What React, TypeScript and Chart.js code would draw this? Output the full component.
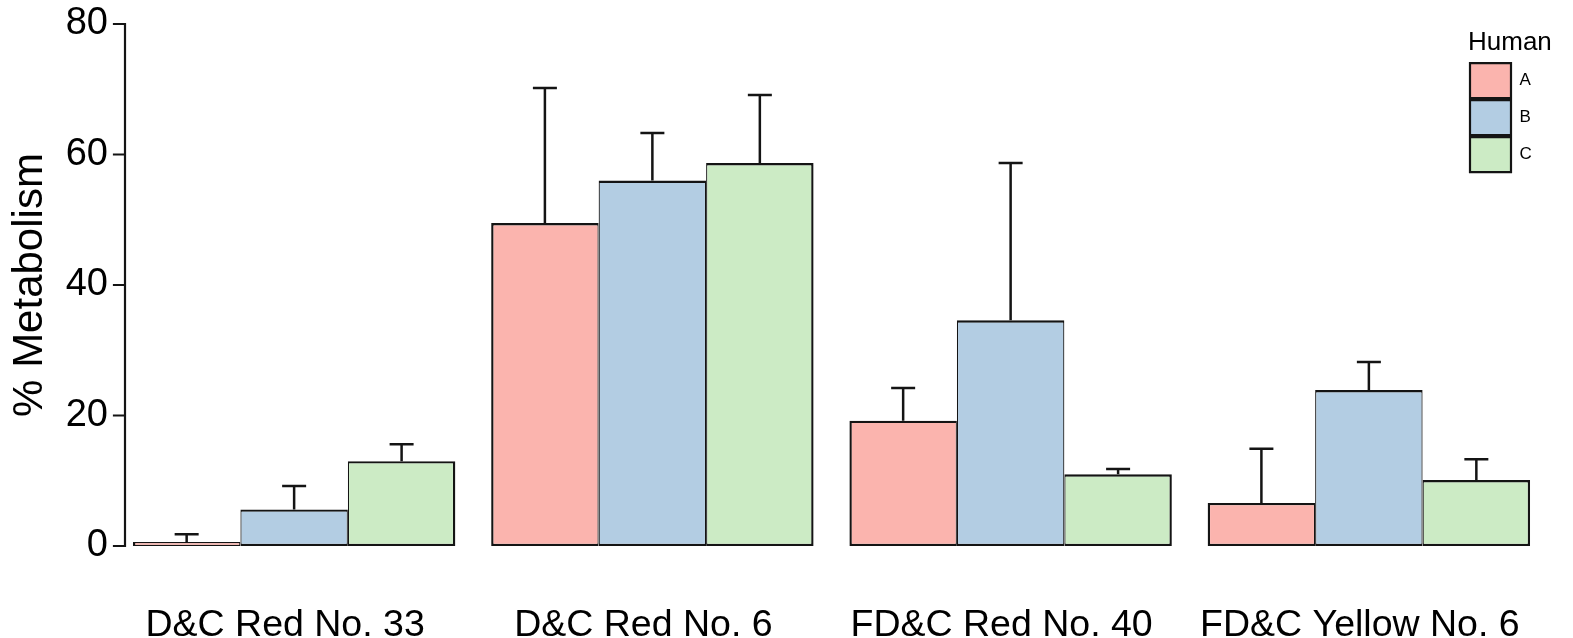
import React, { useEffect, useRef } from 'react';
import { Chart, registerables } from 'chart.js';

Chart.register(...registerables);

const categories = ['D&C Red No. 33', 'D&C Red No. 6', 'FD&C Red No. 40', 'FD&C Yellow No. 6'];
const seriesNames = ['A', 'B', 'C'];
const valuesA = [0.6, 49.5, 19.2, 6.6];
const valuesB = [5.6, 56.0, 34.6, 23.9];
const valuesC = [13.0, 58.7, 11.0, 10.1];
// upper ends of the error bars
const upperA = [1.8, 70.2, 24.2, 14.9];
const upperB = [9.2, 63.3, 58.7, 28.2];
const upperC = [15.6, 69.1, 11.8, 13.3];
const yTicks = [0, 20, 40, 60, 80];
const legendTitle = 'Human';
const yTitle = '% Metabolism';

const fills = ['#FBB4AE', '#B3CDE3', '#CCEBC5'];
const ink = '#141414';
const FONT = '"Liberation Sans", Arial, Helvetica, sans-serif';

const seriesValues = [valuesA, valuesB, valuesC];
const seriesUpper = [upperA, upperB, upperC];

const errorBarPlugin = {
  id: 'errorBars',
  afterDatasetsDraw(chart: any) {
    const ctx = chart.ctx;
    const y = chart.scales.y;
    ctx.save();
    ctx.strokeStyle = ink;
    ctx.lineWidth = 2.5;
    chart.data.datasets.forEach((ds: any, i: number) => {
      const meta = chart.getDatasetMeta(i);
      meta.data.forEach((el: any, j: number) => {
        const up = seriesUpper[i][j];
        const yTop = y.getPixelForValue(up);
        const yBar = y.getPixelForValue(ds.data[j]);
        ctx.beginPath();
        ctx.moveTo(el.x, yBar);
        ctx.lineTo(el.x, yTop);
        ctx.moveTo(el.x - 12, yTop);
        ctx.lineTo(el.x + 12, yTop);
        ctx.stroke();
      });
    });
    ctx.restore();
  },
};

const yAxisPlugin = {
  id: 'customYAxis',
  afterDraw(chart: any) {
    const ctx = chart.ctx;
    const y = chart.scales.y;
    const x0 = chart.chartArea.left + 10;
    ctx.save();
    ctx.strokeStyle = ink;
    ctx.lineWidth = 2.2;
    ctx.lineCap = 'square';
    ctx.beginPath();
    ctx.moveTo(x0, y.getPixelForValue(yTicks[yTicks.length - 1]));
    ctx.lineTo(x0, y.getPixelForValue(yTicks[0]));
    yTicks.forEach((t) => {
      const py = y.getPixelForValue(t);
      ctx.moveTo(x0 - 11, py);
      ctx.lineTo(x0, py);
    });
    ctx.stroke();
    ctx.restore();
  },
};

const legendPlacePlugin = {
  id: 'legendPlace',
  afterLayout(chart: any) {
    const lg = chart.legend;
    if (!lg) return;
    const w = Math.max(lg.width, 100);
    const h = lg.height;
    lg.left = chart.chartArea.right - 80;
    lg.top = 30;
    lg.width = w;
    lg.right = lg.left + w;
    lg.bottom = lg.top + h;
  },
};

export default function App() {
  const ref = useRef<HTMLCanvasElement | null>(null);

  useEffect(() => {
    if (!ref.current) return;
    Chart.defaults.font.family = FONT;
    const chart = new Chart(ref.current, {
      type: 'bar',
      data: {
        labels: categories,
        datasets: seriesNames.map((name, i) => ({
          label: name,
          data: seriesValues[i],
          backgroundColor: fills[i],
          borderColor: ink,
          borderWidth: (c: any) => {
            const thin = typeof c.raw === 'number' && c.raw < 1;
            return {
              top: thin ? 1.2 : 2.4,
              bottom: thin ? 1.2 : 2.2,
              left: i === 0 ? 2.4 : 1.2,
              right: i === seriesNames.length - 1 ? 2.4 : 1.2,
            };
          },
          borderSkipped: false,
          categoryPercentage: 0.9,
          barPercentage: 1.0,
        })),
      },
      options: {
        animation: false,
        responsive: false,
        layout: { padding: { left: 0, top: 24, right: 25, bottom: 0 } },
        scales: {
          x: {
            type: 'category',
            offset: true,
            afterFit: (scale: any) => {
              scale.height = 92;
              scale.paddingLeft = 0;
              scale.paddingRight = 0;
            },
            grid: { display: false, drawTicks: false },
            border: { display: false },
            ticks: {
              color: '#000',
              font: { size: 37.5, lineHeight: 1 },
              padding: 61,
              labelOffset: -9,
              maxRotation: 0,
              autoSkip: false,
            },
          },
          y: {
            min: 0,
            max: 80,
            afterFit: (scale: any) => {
              scale.width = 115;
              scale.paddingTop = 0;
              scale.paddingBottom = 0;
            },
            grid: { display: false, drawTicks: false },
            border: { display: false },
            ticks: {
              stepSize: 20,
              color: '#000',
              font: { size: 38 },
              padding: 7,
            },
            title: {
              display: true,
              text: yTitle,
              color: '#000',
              font: { size: 42 },
              padding: { top: 5, bottom: 0 },
            },
          },
        },
        plugins: {
          tooltip: { enabled: false },
          legend: {
            position: 'chartArea',
            align: 'start',
            fullSize: false,
            title: {
              display: true,
              text: legendTitle,
              position: 'start',
              color: '#000',
              font: { size: 26 },
              padding: { top: 0, bottom: 0 },
            },
            labels: {
              boxWidth: 41,
              boxHeight: 35,
              padding: 2,
              color: '#000',
              font: { size: 17 },
              generateLabels: (c: any) =>
                (Chart.defaults.plugins.legend.labels.generateLabels as any)(c).map((l: any) => ({
                  ...l,
                  lineWidth: 2.2,
                  strokeStyle: ink,
                })),
            },
          },
        },
      } as any,
      plugins: [errorBarPlugin, yAxisPlugin, legendPlacePlugin],
    });
    return () => chart.destroy();
  }, []);

  return (
    <div style={{ position: 'fixed', left: 0, top: 0, width: 1573, height: 638, background: '#fff' }}>
      <canvas ref={ref} width={1573} height={638} style={{ display: 'block' }} />
    </div>
  );
}
